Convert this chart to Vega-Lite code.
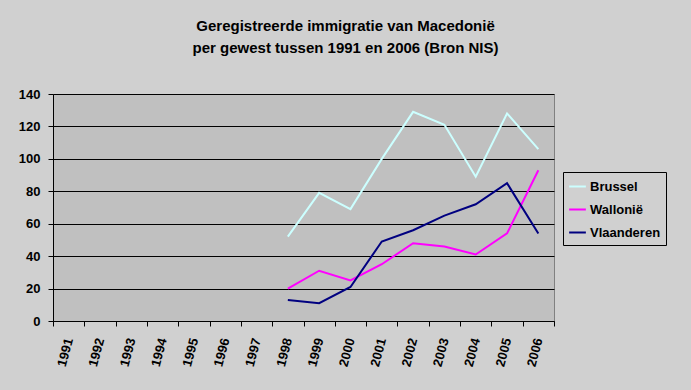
{
  "$schema": "https://vega.github.io/schema/vega-lite/v6.json",
  "autosize": "none",
  "width": 501,
  "height": 227,
  "padding": {"left": 53, "top": 94, "right": 137, "bottom": 69},
  "background": "#d0d0d0",
  "title": {
    "text": ["Geregistreerde immigratie van Macedonië", "per gewest tussen 1991 en 2006 (Bron NIS)"],
    "font": "Liberation Sans",
    "fontSize": 15,
    "fontWeight": "bold",
    "color": "#000000",
    "anchor": "middle",
    "dx": 42,
    "offset": 32,
    "lineHeight": 22
  },
  "config": {
    "view": {"fill": "#c0c0c0", "stroke": "#808080"},
    "font": "Liberation Sans"
  },
  "data": {
    "values": [
      {"jaar": "1998", "gewest": "Brussel", "aantal": 52},
      {"jaar": "1999", "gewest": "Brussel", "aantal": 79},
      {"jaar": "2000", "gewest": "Brussel", "aantal": 69},
      {"jaar": "2001", "gewest": "Brussel", "aantal": 100},
      {"jaar": "2002", "gewest": "Brussel", "aantal": 129},
      {"jaar": "2003", "gewest": "Brussel", "aantal": 121},
      {"jaar": "2004", "gewest": "Brussel", "aantal": 89},
      {"jaar": "2005", "gewest": "Brussel", "aantal": 128},
      {"jaar": "2006", "gewest": "Brussel", "aantal": 106},
      {"jaar": "1998", "gewest": "Wallonië", "aantal": 20},
      {"jaar": "1999", "gewest": "Wallonië", "aantal": 31},
      {"jaar": "2000", "gewest": "Wallonië", "aantal": 25},
      {"jaar": "2001", "gewest": "Wallonië", "aantal": 35},
      {"jaar": "2002", "gewest": "Wallonië", "aantal": 48},
      {"jaar": "2003", "gewest": "Wallonië", "aantal": 46},
      {"jaar": "2004", "gewest": "Wallonië", "aantal": 41},
      {"jaar": "2005", "gewest": "Wallonië", "aantal": 54},
      {"jaar": "2006", "gewest": "Wallonië", "aantal": 93},
      {"jaar": "1998", "gewest": "Vlaanderen", "aantal": 13},
      {"jaar": "1999", "gewest": "Vlaanderen", "aantal": 11},
      {"jaar": "2000", "gewest": "Vlaanderen", "aantal": 21},
      {"jaar": "2001", "gewest": "Vlaanderen", "aantal": 49},
      {"jaar": "2002", "gewest": "Vlaanderen", "aantal": 56},
      {"jaar": "2003", "gewest": "Vlaanderen", "aantal": 65},
      {"jaar": "2004", "gewest": "Vlaanderen", "aantal": 72},
      {"jaar": "2005", "gewest": "Vlaanderen", "aantal": 85},
      {"jaar": "2006", "gewest": "Vlaanderen", "aantal": 54}
    ]
  },
  "mark": {"type": "line", "strokeWidth": 2},
  "encoding": {
    "x": {
      "field": "jaar",
      "type": "ordinal",
      "scale": {"domain": ["1991","1992","1993","1994","1995","1996","1997","1998","1999","2000","2001","2002","2003","2004","2005","2006"], "paddingInner": 0, "paddingOuter": 0},
      "axis": {
        "title": null,
        "labelAngle": -75,
        "labelAlign": "right",
        "labelBaseline": "middle",
        "labelFontSize": 13,
        "labelFontWeight": "bold",
        "labelColor": "#000000",
        "labelPadding": 12,
        "tickBand": "extent",
        "tickColor": "#000000",
        "tickSize": 5,
        "domainColor": "#000000",
        "grid": false
      }
    },
    "y": {
      "field": "aantal",
      "type": "quantitative",
      "scale": {"domain": [0, 140]},
      "axis": {
        "title": null,
        "values": [0,20,40,60,80,100,120,140],
        "labelFontSize": 13,
        "labelFontWeight": "bold",
        "labelColor": "#000000",
        "labelPadding": 8,
        "tickColor": "#000000",
        "tickSize": 5,
        "domainColor": "#000000",
        "gridColor": "#000000",
        "gridOpacity": 1
      }
    },
    "color": {
      "field": "gewest",
      "type": "nominal",
      "scale": {"domain": ["Brussel", "Wallonië", "Vlaanderen"], "range": ["#ccffff", "#ff00ff", "#000080"]},
      "legend": {
        "title": null,
        "orient": "none",
        "legendX": 510,
        "legendY": 78,
        "symbolType": "stroke",
        "symbolSize": 280,
        "symbolStrokeWidth": 2,
        "labelFontSize": 13,
        "labelFontWeight": "bold",
        "labelColor": "#000000",
        "fillColor": "#d0d0d0",
        "strokeColor": "#000000",
        "padding": 5,
        "rowPadding": 6,
        "labelOffset": 3
      }
    }
  }
}
